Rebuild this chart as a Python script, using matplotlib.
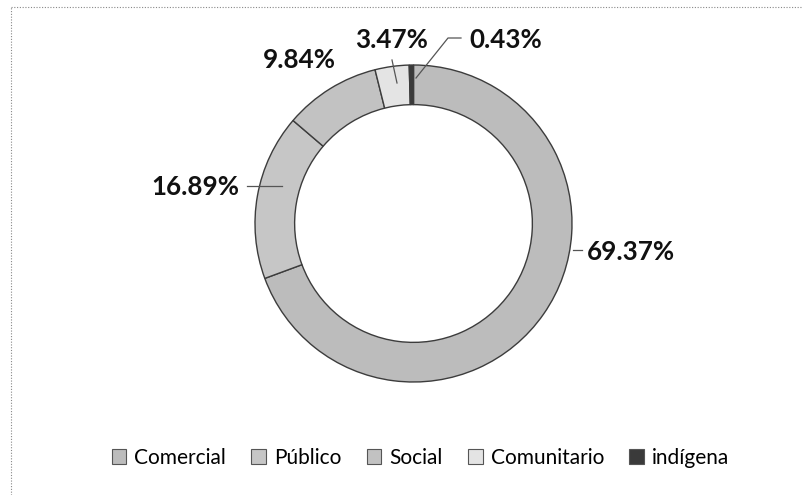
import numpy as np
import matplotlib
matplotlib.use("Agg")
import matplotlib.pyplot as plt
from matplotlib.lines import Line2D
from matplotlib.patches import Patch

# ---------- datos ----------
categorias = ["Comercial", "Público", "Social", "Comunitario", "indígena"]
porcentajes = [69.37, 16.89, 9.84, 3.47, 0.43]
etiquetas = ["69.37%", "16.89%", "9.84%", "3.47%", "0.43%"]
colores = ["#bcbcbc", "#c6c6c6", "#c2c2c2", "#e4e4e4", "#3a3a3a"]
# ---------------------------

plt.rcParams["font.family"] = ["Lato", "DejaVu Sans"]

W, H = 804, 495
fig = plt.figure(figsize=(W / 100, H / 100), dpi=100)

# centro y radio del anillo en píxeles
cx, cy, r = 413.5, 223.5, 158.5
ax = fig.add_axes([(cx - r) / W, (H - cy - r) / H, 2 * r / W, 2 * r / H])

ax.pie(porcentajes, colors=colores, startangle=90, counterclock=False,
       radius=1.0,
       wedgeprops=dict(width=0.25, edgecolor="#3c3c3c", linewidth=1.0))
ax.set_xlim(-1, 1)
ax.set_ylim(-1, 1)
ax.set_aspect("equal")
ax.axis("off")

def px(x, y):
    return (x - cx) / r, (cy - y) / r

# posiciones de etiquetas (px) y alineación
pos_etiq = [(587, 252, "left"), (239, 187, "right"), (299, 60, "center"),
            (392, 40, "center"), (469, 40, "left")]
for txt, (x, y, ha) in zip(etiquetas, pos_etiq):
    tx, ty = px(x, y)
    ax.text(tx, ty, txt, ha=ha, va="center", fontsize=18.7, fontweight="bold",
            color="#111111")

# líneas guía
guias = [[(573, 250), (582, 250)],
         [(247, 186), (282, 186)],
         [(416, 78), (448, 38), (461, 38)],
         [(392, 60), (397, 83)]]
for g in guias:
    pts = np.array([px(x, y) for x, y in g])
    ax.plot(pts[:, 0], pts[:, 1], color="#555555", lw=0.9, clip_on=False)

# leyenda
handles = [Patch(facecolor=c, edgecolor="#555555", lw=0.8) for c in colores]
fig.legend(handles, categorias, loc="center", bbox_to_anchor=(420.5 / W, 1 - 458 / H),
           ncol=5, frameon=False, fontsize=15, handlelength=0.7, handleheight=0.7,
           handletextpad=0.4, columnspacing=1.2, borderaxespad=0)

# marco punteado del área del gráfico
fig.add_artist(Line2D([11 / W, 1], [1 - 7 / H, 1 - 7 / H], transform=fig.transFigure,
                      color="#888888", lw=0.8, ls=(0, (1, 1.5))))
fig.add_artist(Line2D([11 / W, 11 / W], [0, 1 - 7 / H], transform=fig.transFigure,
                      color="#888888", lw=0.8, ls=(0, (1, 1.5))))

fig.savefig("out.png", dpi=100, facecolor="white")
